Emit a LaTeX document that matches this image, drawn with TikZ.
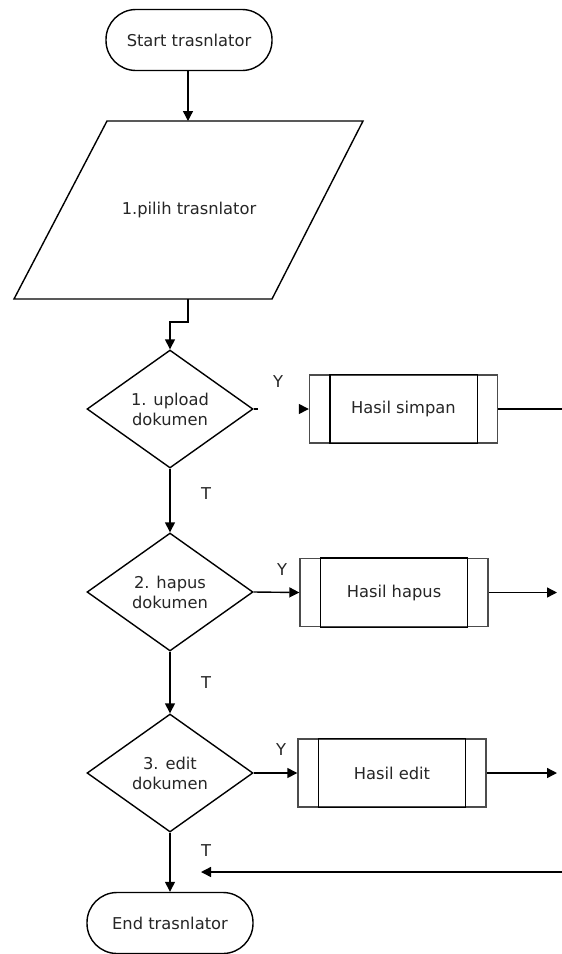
\documentclass[tikz,border=0pt]{standalone}
\usepackage{fontspec}
\setmainfont{DejaVu Sans}
\usetikzlibrary{shapes.geometric,arrows.meta}

\tikzset{
  line/.style={line width=1.4pt, draw=black},
  flow/.style={line, -{Triangle[length=10pt,width=10pt]}},
  txt/.style={text=black!85, font=\fontsize{16.3}{20}\selectfont, align=center, inner sep=0pt},
  terminal/.style={txt, line, rectangle, rounded corners=30pt, minimum width=166pt, minimum height=61pt},
  decision/.style={txt, line, diamond, minimum width=166pt, minimum height=118pt},
  subproc/.style={txt, draw=black!70, line width=1.4pt, rectangle, minimum width=188pt, minimum height=68pt},
  lbl/.style={txt}
}

\newcommand{\subbars}[1]{%
  \draw[line] ([xshift=21pt]#1.north west) -- ([xshift=21pt]#1.south west);
  \draw[line] ([xshift=-21pt]#1.north east) -- ([xshift=-21pt]#1.south east);
  \draw[line] ([xshift=21pt]#1.north west) -- ([xshift=-21pt]#1.north east);
  \draw[line] ([xshift=21pt]#1.south west) -- ([xshift=-21pt]#1.south east);
}

\begin{document}
\begin{tikzpicture}[x=1pt, y=-1pt]
  \useasboundingbox (0,0) rectangle (562,954);
  \fill[white] (0,0) rectangle (562,954);

  % start terminal
  \node[terminal] (start) at (189,40) {Start trasnlator};

  % input / output parallelogram
  \draw[line] (107,121) -- (363,121) -- (272,299) -- (14,299) -- cycle;
  \node[txt] (pilih) at (189,210) {1.pilih trasnlator};
  \coordinate (pilihtop) at (188,121);
  \coordinate (pilihbot) at (188,299);

  % decisions
  \node[decision] (d1) at (170,409) {1. upload\\dokumen};
  \node[decision] (d2) at (170,592) {2. hapus\\dokumen};
  \node[decision] (d3) at (170,773) {3. edit\\dokumen};

  % result boxes
  \node[subproc] (b1) at (403.5,409) {Hasil simpan};
  \node[subproc] (b2) at (394,592.5) {Hasil hapus};
  \node[subproc] (b3) at (392,773) {Hasil edit};
  \subbars{b1}
  \subbars{b2}
  \subbars{b3}

  % end terminal
  \node[terminal] (end) at (170,923) {End trasnlator};

  % main flow
  \draw[flow] (start.south -| pilihtop) -- (pilihtop);
  \draw[flow] (pilihbot) |- (170,322) -- (d1.north);
  \draw[flow] (d1.south) -- (d2.north);
  \draw[flow] (d2.south) -- (d3.north);
  \draw[flow] (d3.south) -- (end.north);

  % yes branches
  \draw[line] (d1.east) -- ++(4,0);
  \coordinate (y1) at (300,409);
  \draw[flow] (y1) -- (b1.west);
  \draw[flow] (d2.east) -- (b2.west);
  \draw[flow] (d3.east) -- (b3.west);

  % outgoing lines
  \coordinate (o1) at (562,409);
  \coordinate (o2) at (557,592.5);
  \coordinate (o3) at (557,773);
  \draw[line] (b1.east) -- (o1);
  \draw[flow] (b2.east) -- (o2);
  \draw[flow] (b3.east) -- (o3);

  % return line
  \coordinate (r1) at (562,872);
  \coordinate (r2) at (201,872);
  \draw[flow] (r1) -- (r2);

  % labels
  \node[lbl] (ly1) at (278,382) {Y};
  \node[lbl] (ly2) at (282,570) {Y};
  \node[lbl] (ly3) at (281,750) {Y};
  \node[lbl] (lt1) at (206,494) {T};
  \node[lbl] (lt2) at (206,683) {T};
  \node[lbl] (lt3) at (206,851) {T};
\end{tikzpicture}
\end{document}
